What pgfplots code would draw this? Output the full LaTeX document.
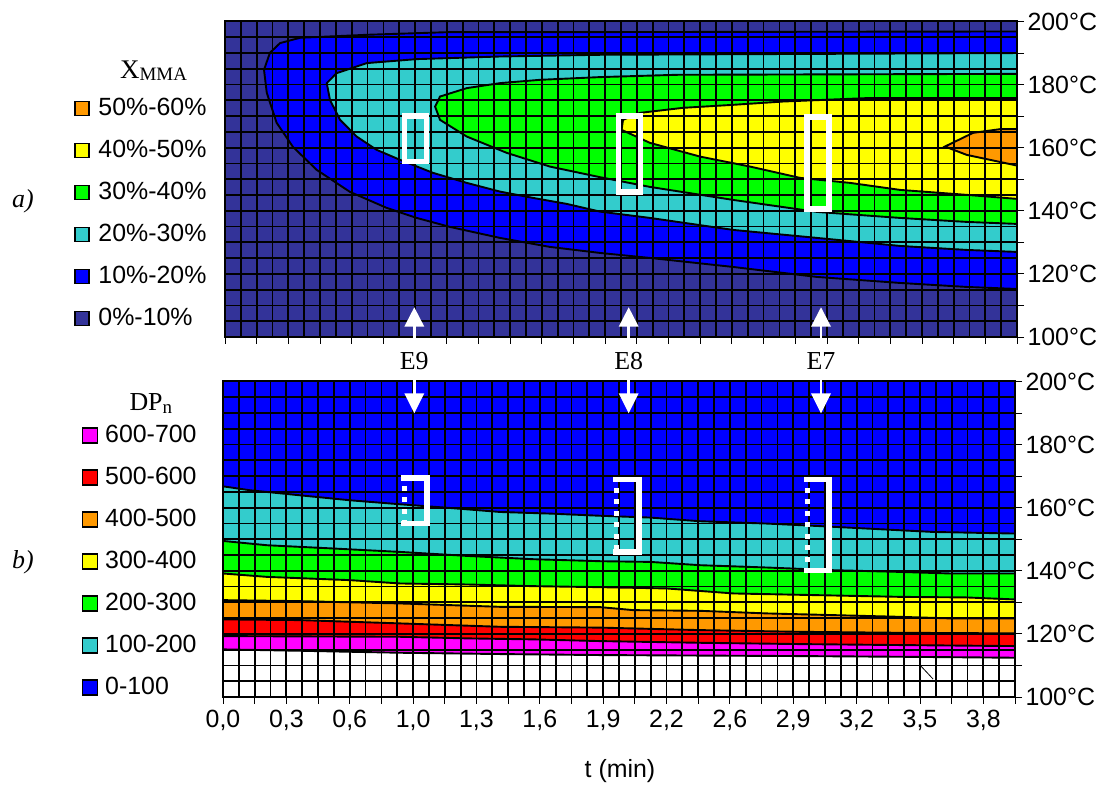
\documentclass[border=0pt]{standalone}
\usepackage{fontspec}
\setmainfont{Liberation Sans}
\newfontfamily\serif{Liberation Serif}
\usepackage{pgfplots}
\pgfplotsset{compat=1.18}
\definecolor{cnavy}{HTML}{333399}
\definecolor{cblue}{HTML}{0000FF}
\definecolor{ccyan}{HTML}{33CCCC}
\definecolor{cgreen}{HTML}{00FF00}
\definecolor{cyellow}{HTML}{FFFF00}
\definecolor{corange}{HTML}{FF9900}
\definecolor{cred}{HTML}{FF0000}
\definecolor{cmag}{HTML}{FF00FF}
\pgfplotsset{
  panel/.style={
    scale only axis, width=792bp, height=315.5bp,
    xmin=0, xmax=4, ymin=100, ymax=200,
    axis on top, clip=true,
    xtick={0,0.16,0.32,0.48,0.64,0.80,0.96,1.12,1.28,1.44,1.60,1.76,1.92,2.08,2.24,2.40,2.56,2.72,2.88,3.04,3.20,3.36,3.52,3.68,3.84,4.00},
    minor x tick num=1,
    ytick={100,110,120,130,140,150,160,170,180,190,200}, minor y tick num=1,
    grid=both,
    major grid style={black, line width=1.8bp},
    minor grid style={black, line width=1.8bp},
    major tick length=7bp, minor tick length=0bp,
    tick align=outside,
    xtick pos=bottom, ytick pos=right,
    yticklabel pos=right,
    every tick/.style={black, line width=0.8bp},
    axis line style={line width=2bp},
    yticklabels={100°C,,120°C,,140°C,,160°C,,180°C,,200°C},
    ticklabel style={font=\fontsize{25}{29}\selectfont},
    xticklabel style={yshift=-3bp},
  },
  cline/.style={draw=black, line width=1.9bp},
}
\newcommand{\legsq}[4]{% x, ycenter(image), size, color
  \filldraw[fill=#4, draw=black, line width=1.3bp] (#1,{787-#2-#3/2}) rectangle ({#1+#3},{787-#2+#3/2});}
\begin{document}
\begin{tikzpicture}[x=1bp, y=1bp]
\path[use as bounding box] (0,0) rectangle (1105,787);

% ---------- top panel: X_MMA ----------
\begin{axis}[panel, at={(225bp,450bp)}, anchor=south west,
  axis background/.style={fill=cnavy}, xticklabels={}]
\addplot[fill=cblue, cline] coordinates {
(4.1,196.83)(4.0,196.83)(1.894,196.64)(1.136,196.64)(0.716,195.78)(0.379,194.83)(0.278,193.15)(0.227,190.07)(0.197,184.68)(0.211,177.39)(0.261,167.87)(0.343,160.26)(0.463,152.97)(0.631,145.99)(0.817,140.91)(0.968,137.74)(1.136,134.89)(1.389,131.40)(1.641,128.55)(1.894,126.64)(2.146,125.06)(2.566,122.20)(2.990,119.03)(3.409,117.13)(3.747,115.86)(4.0,115.22)(4.1,115.22)} -- cycle;
\addplot[fill=ccyan, cline] coordinates {
(4.1,190.0)(4.0,190.0)(1.894,189.44)(1.389,188.90)(0.968,188.07)(0.716,186.81)(0.564,183.63)(0.514,180.46)(0.530,175.17)(0.581,168.82)(0.665,163.53)(0.766,159.31)(0.884,156.14)(1.051,152.01)(1.221,148.84)(1.389,146.08)(1.556,144.08)(1.726,142.18)(1.894,139.74)(2.146,137.74)(2.566,133.94)(2.990,131.40)(3.409,128.86)(3.747,127.59)(4.0,126.96)(4.1,126.96)} -- cycle;
\addplot[fill=cgreen, cline] coordinates {
(4.1,183.4)(4.0,183.4)(2.281,183.10)(1.894,182.37)(1.591,181.51)(1.389,180.46)(1.221,178.88)(1.086,176.21)(1.061,173.04)(1.086,168.82)(1.221,163.53)(1.423,158.36)(1.641,154.01)(1.894,150.65)(2.146,147.57)(2.566,143.45)(2.990,139.64)(3.409,137.74)(3.747,136.47)(4.0,135.84)(4.1,135.84)} -- cycle;
\addplot[fill=cyellow, cline] coordinates {
(4.1,175.71)(4.0,175.71)(3.241,175.71)(2.818,174.63)(2.566,173.58)(2.313,172.63)(2.096,171.04)(2.010,168.82)(2.003,165.65)(2.146,161.53)(2.399,157.18)(2.652,154.01)(2.904,150.43)(3.157,148.84)(3.409,146.62)(3.747,145.04)(4.0,143.77)(4.1,143.77)} -- cycle;
\addplot[fill=corange, cline] coordinates {
(4.1,165.87)(3.914,165.87)(3.778,164.70)(3.636,160.36)(3.746,157.72)(4.0,154.33)(4.1,154.0)} -- cycle;
\end{axis}

% ---------- bottom panel: DPn ----------
\begin{axis}[panel, at={(223bp,90bp)}, anchor=south west,
  axis background/.style={fill=cblue},
  xticklabels={{0,0},{},{0,3},{},{0,6},{},{1,0},{},{1,3},{},{1,6},{},{1,9},{},{2,2},{},{2,6},{},{2,9},{},{3,2},{},{3,5},{},{3,8},{}}]
\addplot[fill=ccyan, cline] coordinates {
(-0.1,166.77)(0,166.77)(0.138,165.51)(0.390,163.92)(0.643,162.34)(0.895,161.08)(1.147,159.91)(1.400,158.64)(1.652,158.13)(1.905,157.44)(2.157,156.87)(2.410,155.70)(2.746,154.97)(2.999,154.21)(3.251,153.39)(3.587,152.31)(3.839,152.00)(4.0,151.80)(4.1,151.80)(4.1,90)(-0.1,90)} -- cycle;
\addplot[fill=cgreen, cline] coordinates {
(-0.1,149.46)(0,149.46)(0.222,148.10)(0.558,147.06)(0.895,145.98)(1.232,144.72)(1.568,143.67)(1.905,143.04)(2.157,142.82)(2.410,141.77)(2.746,141.04)(3.082,140.19)(3.419,139.65)(3.671,139.15)(4.0,139.15)(4.1,139.15)(4.1,90)(-0.1,90)} -- cycle;
\addplot[fill=cyellow, cline] coordinates {
(-0.1,139.15)(0,139.15)(0.222,138.07)(0.643,137.03)(0.895,135.98)(1.232,135.66)(1.568,135.13)(1.905,134.81)(2.241,134.40)(2.578,132.82)(2.999,132.28)(3.419,131.74)(3.756,131.55)(4.0,130.92)(4.1,130.92)(4.1,90)(-0.1,90)} -- cycle;
\addplot[fill=corange, cline] coordinates {
(-0.1,130.70)(0,130.70)(0.390,130.38)(0.895,129.65)(1.400,128.58)(1.905,128.48)(2.073,127.53)(2.410,127.31)(2.746,126.49)(3.082,125.95)(3.419,125.41)(3.671,124.91)(4.0,124.91)(4.1,124.91)(4.1,90)(-0.1,90)} -- cycle;
\addplot[fill=cred, cline] coordinates {
(-0.1,124.59)(0,124.59)(0.390,124.37)(0.895,123.32)(1.400,122.25)(1.905,121.99)(2.410,121.20)(2.915,120.66)(3.419,120.35)(4.0,120.16)(4.1,120.16)(4.1,90)(-0.1,90)} -- cycle;
\addplot[fill=cmag, cline] coordinates {
(-0.1,119.30)(0,119.30)(0.895,119.08)(1.232,118.58)(1.568,118.26)(1.905,117.72)(2.410,117.18)(2.915,116.77)(3.419,116.46)(4.0,116.14)(4.1,116.14)(4.1,90)(-0.1,90)} -- cycle;
\addplot[fill=white, cline] coordinates {
(-0.1,115.09)(0,115.09)(0.390,114.65)(0.895,114.02)(1.400,113.61)(1.905,113.29)(2.410,113.13)(2.915,112.97)(3.419,112.75)(4.0,112.44)(4.1,112.44)(4.1,90)(-0.1,90)} -- cycle;
\addplot[black, line width=0.8bp] coordinates {(3.52,110.13)(3.586,105.70)};
\end{axis}

% ---------- annotations ----------
\begin{scope}[white, line width=5.5bp, line cap=rect, line join=miter]
\draw (404.5,625.5) rectangle (426.5,671);
\draw (618.5,594.8) rectangle (640.5,671);
\draw (806.8,578.1) rectangle (829.2,670.2);
\draw (404,309) -- (427,309) -- (427,263.3) -- (404,263.3);
\draw (616,307.5) -- (639,307.5) -- (639,235) -- (616,235);
\draw (807,307.5) -- (829,307.5) -- (829,216.5) -- (807,216.5);
\end{scope}
\begin{scope}[white, line width=5bp, dash pattern=on 5bp off 6.5bp]
\draw (404,301) -- (404,266);
\draw (616,299) -- (616,238);
\draw (807,299) -- (807,219);
\end{scope}
\foreach \xa in {414.3,628.7,821}{
  \draw[white, line width=2.5bp] (\xa,442) -- (\xa,461);
  \fill[white] (\xa,479.7) -- ({\xa-10},460.3) -- ({\xa+10},460.3) -- cycle;
  \draw[white, line width=2.5bp] (\xa,411) -- (\xa,393);
  \fill[white] (\xa,373.7) -- ({\xa-10},393.7) -- ({\xa+10},393.7) -- cycle;
}
\node[anchor=base, inner sep=0, font=\serif\fontsize{26}{30}\selectfont] at (414.3,417) {E9};
\node[anchor=base, inner sep=0, font=\serif\fontsize{26}{30}\selectfont] at (628.7,417) {E8};
\node[anchor=base, inner sep=0, font=\serif\fontsize{26}{30}\selectfont] at (821,417) {E7};

% ---------- legends ----------
\node[anchor=base west, inner sep=0] at (120,708.7) {\serif\fontsize{27}{30}\selectfont X\raisebox{-2.7bp}{\fontsize{19}{20}\selectfont MMA}};
\foreach \c/\yc/\t in {corange/108.5/50\%-60\%, cyellow/150.5/40\%-50\%, cgreen/192.5/30\%-40\%, ccyan/234.5/20\%-30\%, cblue/276.5/10\%-20\%, cnavy/318.5/0\%-10\%}{
  \legsq{75}{\yc}{14}{\c}
  \node[anchor=base west, inner sep=0, font=\fontsize{25}{29}\selectfont] at (98.3,{787-\yc-7}) {\t};
}
\node[anchor=base west, inner sep=0] at (129.3,376.3) {\serif\fontsize{26}{30}\selectfont DP\raisebox{-2.5bp}{\fontsize{19}{20}\selectfont n}};
\foreach \c/\yc/\t in {cmag/435.5/600-700, cred/477.5/500-600, corange/519.5/400-500, cyellow/561.5/300-400, cgreen/603.5/200-300, ccyan/645.5/100-200, cblue/687.5/0-100}{
  \legsq{82.3}{\yc}{15}{\c}
  \node[anchor=base west, inner sep=0, font=\fontsize{25}{29}\selectfont] at (105,{787-\yc-7.5}) {\t};
}
\node[anchor=base west, inner sep=0, font=\serif\itshape\fontsize{26}{30}\selectfont] at (12,579) {a)};
\node[anchor=base west, inner sep=0, font=\serif\itshape\fontsize{26}{30}\selectfont] at (12,218) {b)};
\node[anchor=base, inner sep=0, font=\fontsize{25}{29}\selectfont] at (620,9) {t (min)};
\end{tikzpicture}
\end{document}
